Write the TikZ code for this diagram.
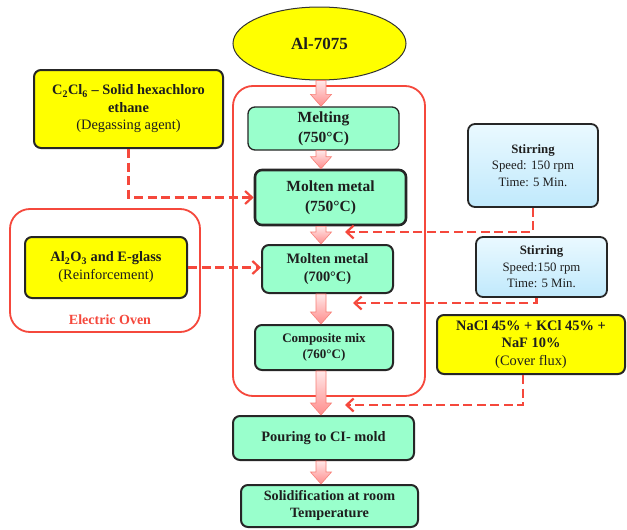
\documentclass[tikz,border=0pt]{standalone}
\usepackage{fontspec}
\setmainfont{Liberation Serif}
\usetikzlibrary{arrows.meta,shapes.geometric,calc}
\definecolor{mint}{RGB}{153,255,204}
\definecolor{ylw}{RGB}{255,255,0}
\definecolor{redl}{RGB}{245,72,60}
\definecolor{txt}{RGB}{30,30,30}
\definecolor{bluetop}{RGB}{234,249,255}
\definecolor{bluebot}{RGB}{192,233,252}
\definecolor{pinktop}{RGB}{255,232,232}
\definecolor{pinkbot}{RGB}{255,140,140}
\newcommand\blockarrow[2]{%
  \path[blockarr] let \p1=(#1.south -| ax), \p2=(#2.north -| ax) in
    ({\x1-5pt},{\y1}) -- ({\x1+5pt},{\y1}) -- ({\x1+5pt},{\y2+12pt}) --
    ({\x1+10.5pt},{\y2+12pt}) -- ({\x1},{\y2}) -- ({\x1-10.5pt},{\y2+12pt}) --
    ({\x1-5pt},{\y2+12pt}) -- cycle;}
\begin{document}
\begin{tikzpicture}[x=1pt,y=-1pt,
  box/.style={draw=black!85, line width=2pt, rounded corners=7pt, align=center, text=txt, inner sep=0pt},
  greenbox/.style={box, fill=mint},
  ybox/.style={box, fill=ylw},
  bbox/.style={box, top color=bluetop, bottom color=bluebot, line width=1.8pt},
  redframe/.style={draw=redl, line width=1.8pt, rounded corners=20pt, inner sep=0pt},
  dasharr/.style={draw=redl, line width=2.5pt, dash pattern=on 9pt off 4.5pt,
    -{Straight Barb[length=7pt,width=13pt,line width=2.2pt]}},
  blockarr/.style={draw=redl!70, line width=0.6pt, top color=pinktop, bottom color=pinkbot},
  fbig/.style={font=\fontsize{15.5}{20}\selectfont\bfseries},
  fmid/.style={font=\fontsize{14.4}{17.5}\selectfont\bfseries},
  fsmall/.style={font=\fontsize{13}{16.5}\selectfont\bfseries},
]
\path[fill=white] (0,0) rectangle (627,530);
\useasboundingbox (0,0) rectangle (627,530);
\coordinate (ax) at (321,0);
\coordinate (s1end) at (345,232);
\coordinate (s2end) at (353,303);
\coordinate (fxend) at (345,405);

% frames
\node[redframe, minimum width=192pt, minimum height=310pt] (furnace) at (329,241) {};
\node[redframe, minimum width=190pt, minimum height=123pt] (oven) at (105,270.5) {};
\node[text=redl, font=\fontsize{14}{17}\selectfont\bfseries] (ovenlbl) at (110,320) {Electric Oven};

% main column
\node[ellipse, draw=black!80, line width=1pt, fill=ylw, minimum width=173pt, minimum height=73pt,
      inner sep=0pt, text=txt, font=\fontsize{17}{20}\selectfont\bfseries] (al) at (319.5,43.5) {Al-7075};
\node[greenbox, fbig, line width=1.3pt, minimum width=151pt, minimum height=43pt] (melt) at (323.5,128.5) {Melting\\(750°C)};
\node[greenbox, fbig, line width=2.6pt, minimum width=151pt, minimum height=55pt] (mm750) at (330.5,197.5) {Molten metal\\(750°C)};
\node[greenbox, fmid, minimum width=131pt, minimum height=48pt] (mm700) at (327.5,269) {Molten metal\\(700°C)};
\node[greenbox, fsmall, minimum width=138pt, minimum height=45pt] (comp) at (324,347.5) {Composite mix\\(760°C)};
\node[greenbox, fmid, minimum width=181pt, minimum height=44pt] (pour) at (323.5,438) {Pouring to CI- mold};
\node[greenbox, fmid, font=\fontsize{14.2}{17}\selectfont\bfseries, minimum width=177pt, minimum height=42pt] (solid) at (329.5,506) {Solidification at room\\Temperature};

% side boxes
\node[ybox, fmid, minimum width=189pt, minimum height=78pt] (c2) at (128.5,109)
  {C\textsubscript{2}Cl\textsubscript{6} – Solid hexachloro\\ethane\\\mdseries (Degassing agent)};
\node[ybox, fmid, font=\fontsize{14.4}{18}\selectfont\bfseries, minimum width=162pt, minimum height=61pt] (al2o3) at (106,267.5)
  {Al\textsubscript{2}O\textsubscript{3} and E-glass\\\mdseries (Reinforcement)};
\node[bbox, font=\fontsize{12.8}{16.5}\selectfont\bfseries, minimum width=130pt, minimum height=83pt] (stir1) at (533,165.5)
  {Stirring\\\mdseries Speed: 150 rpm\\\mdseries Time: 5 Min.};
\node[bbox, font=\fontsize{12.8}{16.5}\selectfont\bfseries, minimum width=131pt, minimum height=60pt] (stir2) at (541.5,267)
  {Stirring\\\mdseries Speed:150 rpm\\\mdseries Time: 5 Min.};
\node[ybox, fmid, minimum width=188pt, minimum height=59pt] (nacl) at (531,344.5)
  {NaCl 45\% + KCl 45\% +\\NaF 10\%\\\mdseries (Cover flux)};

% block arrows
\blockarrow{al}{melt}
\blockarrow{melt}{mm750}
\blockarrow{mm750}{mm700}
\blockarrow{mm700}{comp}
\blockarrow{comp}{pour}
\blockarrow{pour}{solid}

% dashed arrows
\draw[dasharr] (c2.south) |- (mm750.west);
\draw[dasharr] (al2o3.east) -- (al2o3.east -| mm700.west);
\draw[dasharr] (stir1.south) |- (s1end);
\draw[dasharr] ([xshift=-5pt]stir2.south) |- (s2end);
\draw[dasharr] ([xshift=-8pt]nacl.south) |- (fxend);
\end{tikzpicture}
\end{document}
